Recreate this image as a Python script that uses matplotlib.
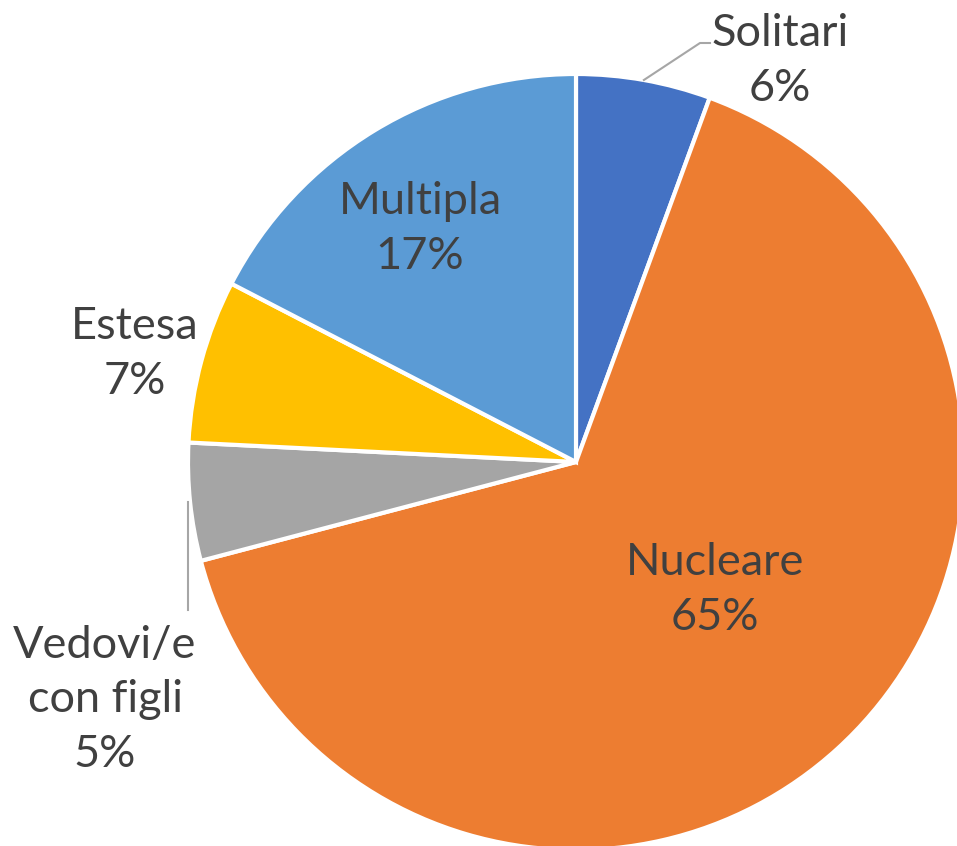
import numpy as np
import matplotlib.pyplot as plt

labels = ["Solitari", "Nucleare", "Vedovi/e\ncon figli", "Estesa", "Multipla"]
values = [5.6, 65.3, 4.9, 6.8, 17.4]
colors = ["#4472C4", "#ED7D31", "#A5A5A5", "#FFC000", "#5B9BD5"]

W, H = 957, 846
cx, cy, R = 576, H - 462, 388
txt_col = "#404040"

plt.rcParams['font.family'] = ['Lato', 'DejaVu Sans']

fig = plt.figure(figsize=(W / 100, H / 100), dpi=100)
ax = fig.add_axes([0, 0, 1, 1])

ax.pie(values, colors=colors, startangle=90, counterclock=False,
       center=(cx, cy), radius=R, frame=True,
       wedgeprops=dict(edgecolor='white', linewidth=3))
ax.set_xlim(0, W)
ax.set_ylim(0, H)
ax.set_aspect('equal')
ax.axis('off')

# label block centres (pixels from top-left)
label_pos = [(780, 61), (715, 590), (105, 700), (135, 354), (420, 229)]
for lab, v, (x, y) in zip(labels, values, label_pos):
    ax.text(x, H - y, f"{lab}\n{round(v):.0f}%", ha='center', va='center',
            fontsize=32.5, color=txt_col, linespacing=1.4)

# leader lines start at the wedge mid-angle on the rim
cum = np.cumsum([0] + values)
def rim(i):
    a = np.deg2rad((cum[i] + values[i] / 2) / 100 * 360)
    return cx + R * np.sin(a), cy + R * np.cos(a)

x0, y0 = rim(0)
ax.plot([x0, 700, 710], [y0, H - 43, H - 43], color='#A6A6A6', lw=1.5)
x2, y2 = rim(2)
ax.plot([x2 - 2, x2 - 2], [y2, H - 610], color='#A6A6A6', lw=1.5)

fig.savefig("out.png", dpi=100)
